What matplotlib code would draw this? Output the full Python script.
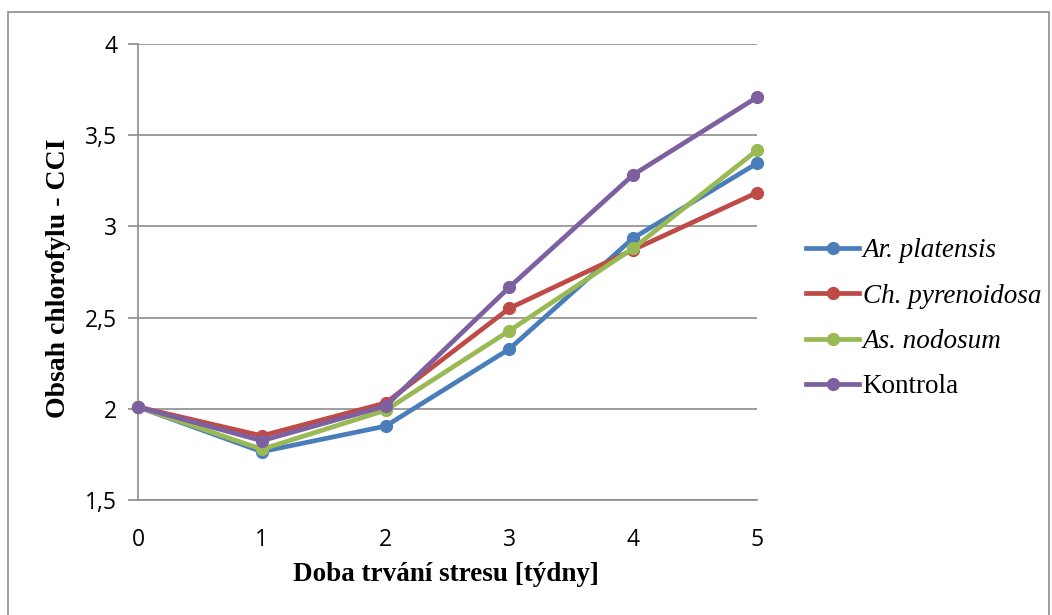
import matplotlib
matplotlib.use("Agg")
import matplotlib.pyplot as plt
from matplotlib.patches import Rectangle
from matplotlib.lines import Line2D

weeks = [0, 1, 2, 3, 4, 5]
ar_platensis = [2.01, 1.765, 1.905, 2.328, 2.936, 3.346]
ch_pyrenoidosa = [2.01, 1.852, 2.032, 2.551, 2.872, 3.185]
as_nodosum = [2.01, 1.778, 1.992, 2.428, 2.880, 3.417]
kontrola = [2.01, 1.825, 2.015, 2.667, 3.283, 3.708]

series_names = ["Ar. platensis", "Ch. pyrenoidosa", "As. nodosum", "Kontrola"]
series_italic = [True, True, True, False]
colors = ["#4A7EBB", "#BE4B48", "#98B954", "#7D60A0"]
y_ticks = [1.5, 2.0, 2.5, 3.0, 3.5, 4.0]
y_labels = ["1,5", "2", "2,5", "3", "3,5", "4"]

W, H = 1052, 615
fig = plt.figure(figsize=(W / 100, H / 100), dpi=100)
fig.patch.set_facecolor("white")

# outer chart border
fig.patches.append(Rectangle((8 / W, -0.05), (1049 - 8) / W, 1 - 12 / H + 0.05,
                             transform=fig.transFigure, fill=False,
                             edgecolor="#8c8c8c", linewidth=1.2))

ax = fig.add_axes([138 / W, 1 - 500 / H, (757 - 138) / W, (500 - 44) / H])

data = [ar_platensis, ch_pyrenoidosa, as_nodosum, kontrola]
for vals, c in zip(data, colors):
    ax.plot(weeks, vals, color=c, linewidth=3.4, marker="o", markersize=8.5,
            solid_capstyle="round", solid_joinstyle="round", zorder=3,
            clip_on=False)

ax.set_xlim(0, 5)
ax.set_ylim(1.5, 4.0)
ax.set_yticks(y_ticks)
ax.set_yticklabels(y_labels)
ax.set_xticks(weeks)
ax.set_xticklabels([str(w) for w in weeks])
ax.grid(axis="y", color="#8c8c8c", linewidth=1.2)
ax.set_axisbelow(True)
for s in ["top", "right"]:
    ax.spines[s].set_visible(False)
for s in ["left", "bottom"]:
    ax.spines[s].set_color("#8c8c8c")
    ax.spines[s].set_linewidth(1.2)
ax.tick_params(axis="y", length=7, color="#8c8c8c", width=1.2, pad=8,
               labelsize=16.5)
ax.tick_params(axis="x", length=0, pad=20, labelsize=16.5)
for lab in ax.get_xticklabels() + ax.get_yticklabels():
    lab.set_fontfamily("Open Sans")

ax.set_xlabel("Doba trvání stresu [týdny]", fontfamily="Liberation Serif",
              fontweight="bold", fontsize=19.5)
ax.set_ylabel("Obsah chlorofylu - CCI", fontfamily="Liberation Serif",
              fontweight="bold", fontsize=20)
ax.xaxis.set_label_coords((446 - 138) / 619, (500 - 562) / 456)
ax.yaxis.set_label_coords((71 - 138) / 619, (500 - 278) / 456)

handles = [Line2D([0], [0], color=c, linewidth=3.4, marker="o", markersize=8.5)
           for c in colors]
leg = fig.legend(handles, series_names, loc="upper left",
                 bbox_to_anchor=(782 / W, 1 - 214 / H), frameon=False,
                 handlelength=1.96, handletextpad=0.12, labelspacing=0.75,
                 prop={"family": "Liberation Serif", "size": 19.5})
for t, it in zip(leg.get_texts(), series_italic):
    if it:
        t.set_fontstyle("italic")

fig.savefig("out.png", dpi=100, facecolor="white")
